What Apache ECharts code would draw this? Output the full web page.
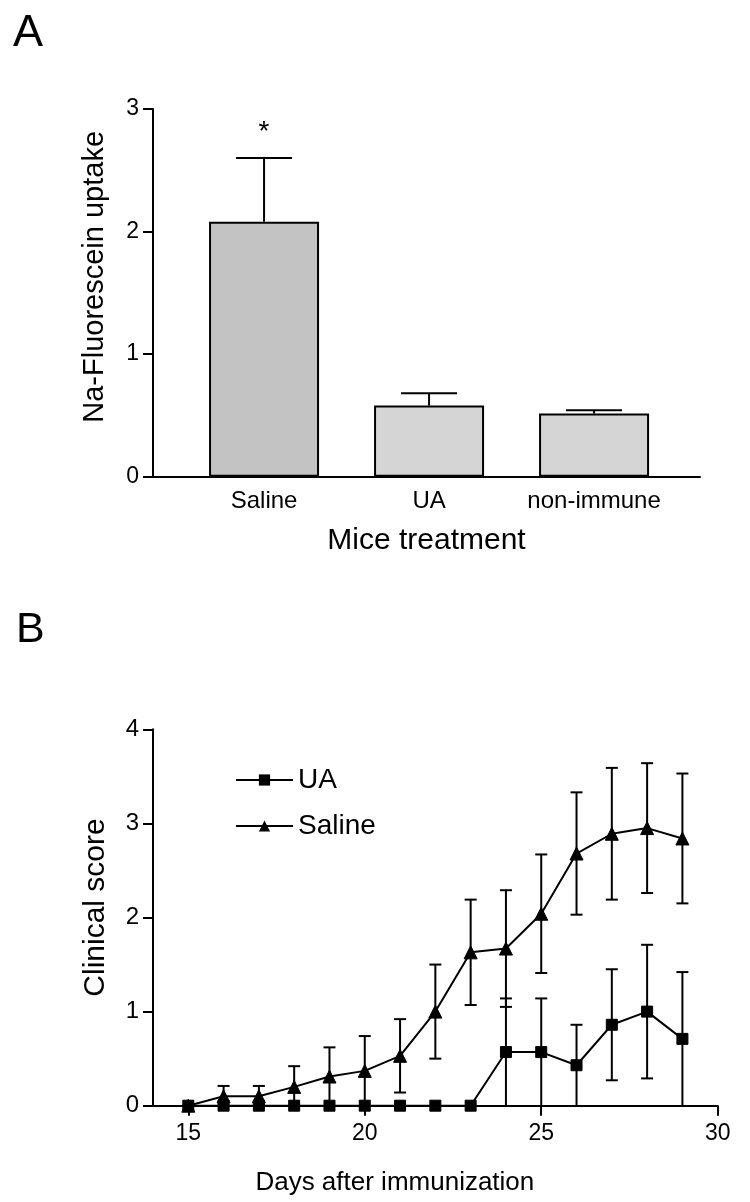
<!DOCTYPE html>
<html>
<head>
<meta charset="utf-8">
<script src="https://cdn.jsdelivr.net/npm/echarts@6/dist/echarts.min.js"></script>
<style>
html,body{margin:0;padding:0;background:#fff;}
#chart{width:750px;height:1202px;}
</style>
</head>
<body>
<div id="chart"></div>
<script>
// ---- Panel A data ----
const treatments = ['Saline', 'UA', 'non-immune'];
const uptake = [2.08, 0.58, 0.515];
const uptakeSem = [0.52, 0.10, 0.027];
const significance = ['*', '', ''];
const barColors = ['#c3c3c3', '#d5d5d5', '#d5d5d5'];

// ---- Panel B data ----
const days = [15, 16, 17, 18, 19, 20, 21, 22, 23, 24, 25, 26, 27, 28, 29];
const uaScore = [0, 0, 0, 0, 0, 0, 0, 0, 0, 0.57, 0.57, 0.43, 0.86, 1.0, 0.71];
const uaSem = [0, 0, 0, 0, 0, 0, 0, 0, 0, 0.57, 0.57, 0.43, 0.59, 0.71, 0.71];
const salineScore = [0, 0.1, 0.1, 0.2, 0.31, 0.37, 0.53, 1.0, 1.63, 1.67, 2.04, 2.68, 2.89, 2.95, 2.84];
const salineSem = [0, 0.11, 0.11, 0.22, 0.31, 0.37, 0.39, 0.5, 0.56, 0.62, 0.63, 0.65, 0.70, 0.69, 0.69];
const xTicksB = [15, 20, 25, 30];

const FONT = 'Liberation Sans, Arial, sans-serif';
const chart = echarts.init(document.getElementById('chart'), null, {renderer: 'canvas'});

function errA(params, api) {
  const x = api.value(0), v = api.value(1), e = api.value(2);
  const p0 = api.coord([x, v]);
  const p1 = api.coord([x, v + e]);
  const half = 28;
  const st = {stroke: '#000', lineWidth: 2};
  const children = [
    {type: 'line', shape: {x1: p0[0], y1: p0[1], x2: p1[0], y2: p1[1]}, style: st},
    {type: 'line', shape: {x1: p1[0] - half, y1: p1[1], x2: p1[0] + half, y2: p1[1]}, style: st}
  ];
  const s = significance[params.dataIndex];
  if (s) {
    children.push({type: 'text', x: p1[0], y: p1[1] - 26,
      style: {text: s, fill: '#000', font: '28px ' + FONT, align: 'center', verticalAlign: 'middle'}});
  }
  return {type: 'group', children: children};
}

function errB(params, api) {
  const x = api.value(0), v = api.value(1), e = api.value(2);
  if (!e) return null;
  const lo = Math.max(0, v - e);
  const pTop = api.coord([x, v + e]);
  const pBot = api.coord([x, lo]);
  const half = 6;
  const st = {stroke: '#000', lineWidth: 2};
  const children = [
    {type: 'line', shape: {x1: pTop[0], y1: pTop[1], x2: pBot[0], y2: pBot[1]}, style: st},
    {type: 'line', shape: {x1: pTop[0] - half, y1: pTop[1], x2: pTop[0] + half, y2: pTop[1]}, style: st}
  ];
  if (lo > 0) {
    children.push({type: 'line', shape: {x1: pBot[0] - half, y1: pBot[1], x2: pBot[0] + half, y2: pBot[1]}, style: st});
  }
  return {type: 'group', children: children};
}

const option = {
  backgroundColor: '#fff',
  animation: false,
  textStyle: {fontFamily: FONT, color: '#000'},
  title: [
    {text: 'A', left: 13, top: 11, padding: 0, textStyle: {fontSize: 45, fontWeight: 'normal', color: '#000', fontFamily: FONT}},
    {text: 'B', left: 16, top: 609, padding: 0, textStyle: {fontSize: 43, fontWeight: 'normal', color: '#000', fontFamily: FONT}}
  ],
  legend: {
    show: true,
    orient: 'vertical',
    left: 235,
    top: 765,
    padding: 0,
    itemWidth: 57,
    itemHeight: 14,
    itemGap: 16,
    data: ['UA', 'Saline'],
    textStyle: {fontSize: 28, color: '#000', fontFamily: FONT, lineHeight: 30}
  },
  grid: [
    {left: 153, top: 109, width: 547, height: 367.7},
    {left: 153, top: 729.3, width: 564.7, height: 376.4}
  ],
  xAxis: [
    {
      gridIndex: 0, type: 'value', min: 0.327, max: 3.642,
      splitLine: {show: false},
      axisLine: {show: true, onZero: false, lineStyle: {color: '#000', width: 2}},
      axisTick: {show: false},
      axisLabel: {
        customValues: [1, 2, 3], margin: 13, fontSize: 24, color: '#000', fontFamily: FONT,
        formatter: function (v) { return treatments[Math.round(v) - 1] || ''; }
      },
      name: 'Mice treatment', nameLocation: 'middle', nameGap: 49,
      nameTextStyle: {fontSize: 30, color: '#000', fontFamily: FONT}
    },
    {
      gridIndex: 1, type: 'value', min: 14, max: 30,
      splitLine: {show: false},
      axisLine: {show: true, onZero: false, lineStyle: {color: '#000', width: 2}},
      axisTick: {show: true, customValues: xTicksB, length: 10, lineStyle: {color: '#000', width: 2}},
      axisLabel: {customValues: xTicksB, margin: 16, fontSize: 23, color: '#000', fontFamily: FONT},
      name: 'Days after immunization', nameLocation: 'middle', nameGap: 64,
      nameTextStyle: {fontSize: 26, color: '#000', fontFamily: FONT, padding: [0, 81, 0, 0]}
    }
  ],
  yAxis: [
    {
      gridIndex: 0, type: 'value', min: 0, max: 3, interval: 1,
      splitLine: {show: false},
      axisLine: {show: true, lineStyle: {color: '#000', width: 2}},
      axisTick: {show: true, length: 10, lineStyle: {color: '#000', width: 2}},
      axisLabel: {margin: 14, fontSize: 23, color: '#000', fontFamily: FONT},
      name: 'Na-Fluorescein uptake', nameLocation: 'middle', nameGap: 44,
      nameTextStyle: {fontSize: 29, color: '#000', fontFamily: FONT, padding: [0, 0, 0, 32]}
    },
    {
      gridIndex: 1, type: 'value', min: 0, max: 4, interval: 1,
      splitLine: {show: false},
      axisLine: {show: true, lineStyle: {color: '#000', width: 2}},
      axisTick: {show: true, length: 10, lineStyle: {color: '#000', width: 2}},
      axisLabel: {margin: 14, fontSize: 24, color: '#000', fontFamily: FONT},
      name: 'Clinical score', nameLocation: 'middle', nameGap: 42,
      nameTextStyle: {fontSize: 30, color: '#000', fontFamily: FONT, padding: [0, 0, 0, 20]}
    }
  ],
  series: [
    {
      type: 'bar', xAxisIndex: 0, yAxisIndex: 0, barWidth: 110,
      data: treatments.map((t, i) => ({value: [i + 1, uptake[i]], itemStyle: {color: barColors[i]}})),
      itemStyle: {borderColor: '#000', borderWidth: 2},
      silent: true
    },
    {
      type: 'custom', xAxisIndex: 0, yAxisIndex: 0, renderItem: errA, silent: true,
      data: treatments.map((t, i) => [i + 1, uptake[i], uptakeSem[i]])
    },
    {
      type: 'custom', xAxisIndex: 1, yAxisIndex: 1, renderItem: errB, silent: true, clip: false,
      data: days.map((d, i) => [d, salineScore[i], salineSem[i]])
    },
    {
      type: 'custom', xAxisIndex: 1, yAxisIndex: 1, renderItem: errB, silent: true, clip: false,
      data: days.map((d, i) => [d, uaScore[i], uaSem[i]])
    },
    {
      name: 'UA', type: 'line', xAxisIndex: 1, yAxisIndex: 1,
      data: days.map((d, i) => [d, uaScore[i]]),
      symbol: 'rect', symbolSize: 11, clip: false,
      lineStyle: {color: '#000', width: 2},
      itemStyle: {color: '#000', borderColor: '#000'},
      z: 5
    },
    {
      name: 'Saline', type: 'line', xAxisIndex: 1, yAxisIndex: 1,
      data: days.map((d, i) => [d, salineScore[i]]),
      symbol: 'triangle', symbolSize: 13, clip: false,
      lineStyle: {color: '#000', width: 2},
      itemStyle: {color: '#000', borderColor: '#000'},
      z: 5
    }
  ]
};
chart.setOption(option);
</script>
</body>
</html>
